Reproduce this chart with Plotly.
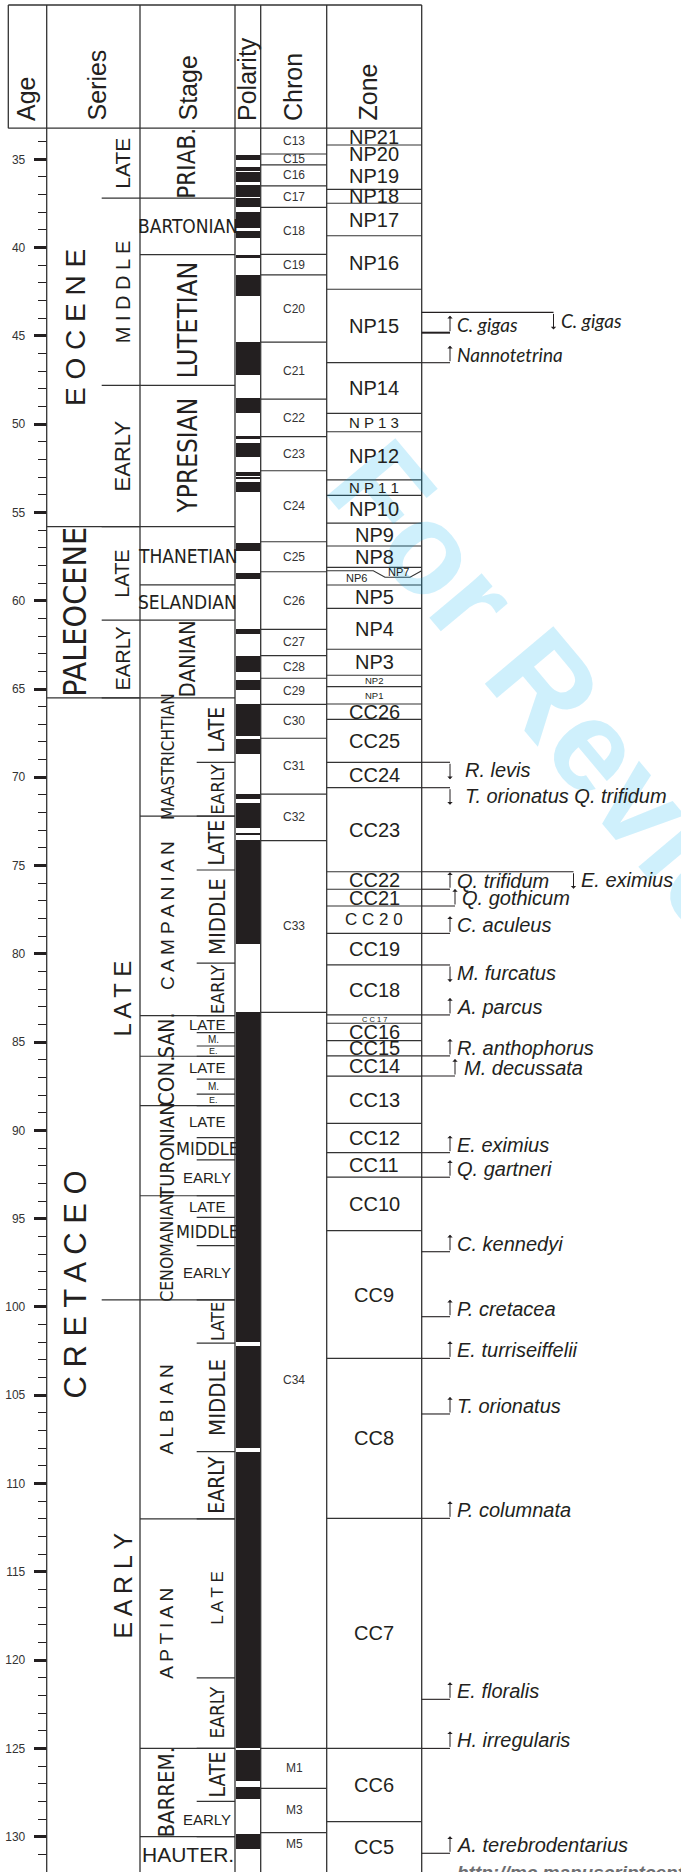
import plotly.graph_objects as go

# ---------------------------------------------------------------- data (ages in Ma)
series_names = ["E O C E N E", "PALEOCENE", "C R E T A C E O"]
series_base = [55.8, 65.5, 132.0]

subseries_names = ["LATE", "M I D D L E", "EARLY", "LATE", "EARLY", "L A T E", "E A R L Y"]
subseries_base = [37.2, 47.8, 55.8, 61.1, 65.5, 99.6, 132.0]

stage_names = ["PRIAB.", "BARTONIAN", "LUTETIAN", "YPRESIAN", "THANETIAN", "SELANDIAN", "DANIAN",
               "MAASTRICHTIAN", "C A M P A N I A N", "SAN.", "CON.", "TURONIAN", "CENOMANIAN",
               "A L B I A N", "A P T I A N", "BARREM.", "HAUTER."]
stage_base = [37.2, 40.4, 47.8, 55.8, 59.1, 61.1, 65.5, 72.2, 83.5, 85.8, 88.6, 93.7, 99.6,
              112.0, 125.0, 130.0, 132.0]

substage_names = ["LATE", "EARLY",                 # Maastrichtian
                  "LATE", "MIDDLE", "EARLY",       # Campanian
                  "LATE", "M.", "E.",              # Santonian
                  "LATE", "M.", "E.",              # Coniacian
                  "LATE", "MIDDLE", "EARLY",       # Turonian
                  "LATE", "MIDDLE", "EARLY",       # Cenomanian
                  "LATE", "MIDDLE", "EARLY",       # Albian
                  "L A T E", "EARLY",              # Aptian
                  "LATE", "EARLY"]                 # Barremian
substage_first_top = 65.5
substage_base = [69.15, 72.2, 75.25, 80.53, 83.5, 84.46, 85.22, 85.8, 87.09, 87.94, 88.6,
                 90.41, 91.67, 93.7, 94.92, 96.53, 99.6, 102.05, 108.19, 112.0, 121.0, 125.0,
                 128.0, 130.0]

# normal-polarity intervals (black)
pol_top = [34.76, 35.46, 35.72, 36.46, 37.21, 37.97, 39.04, 40.42, 41.55, 45.36, 48.54, 50.67,
           51.08, 52.69, 53.04, 53.28, 56.71, 58.41, 61.62, 63.13, 64.49, 65.85, 67.85, 70.96,
           71.47, 73.17, 73.55, 83.31, 102.19, 108.19, 125.07, 127.20, 129.85]
pol_base = [35.04, 35.66, 36.27, 37.12, 37.68, 38.91, 39.47, 40.61, 42.72, 47.22, 49.39, 50.86,
            51.88, 52.94, 53.10, 53.83, 57.17, 58.75, 61.90, 64.02, 65.06, 67.64, 68.70, 71.23,
            72.89, 73.29, 79.46, 101.97, 108.00, 124.95, 126.83, 127.88, 130.71]

chron_names = ["C13", "C15", "C16", "C17", "C18", "C19", "C20", "C21", "C22", "C23", "C24", "C25",
               "C26", "C27", "C28", "C29", "C30", "C31", "C32", "C33", "C34", "M1", "M3", "M5"]
chron_base = [34.70, 35.32, 36.51, 37.72, 40.38, 41.55, 45.36, 48.58, 50.71, 52.64, 56.66, 58.36,
              61.62, 63.11, 64.39, 65.87, 67.79, 70.95, 73.59, 83.31, 125.0, 127.26, 129.77, 131.1]

zone_names = ["NP21", "NP20", "NP19", "NP18", "NP17", "NP16", "NP15", "NP14", "N P 1 3", "NP12",
              "N P 1 1", "NP10", "NP9", "NP8", "NP7", "NP6", "NP5", "NP4", "NP3", "NP2", "NP1",
              "CC26", "CC25", "CC24", "CC23", "CC22", "CC21", "C C 2 0", "CC19", "CC18", "C C 1 7",
              "CC16", "CC15", "CC14", "CC13", "CC12", "CC11", "CC10", "CC9", "CC8", "CC7", "CC6", "CC5"]
zone_base = [34.19, 35.20, 36.70, 37.49, 39.33, 42.36, 46.52, 49.39, 50.43, 53.16, 54.03, 55.61,
             56.90, 58.11, 58.67, 59.11, 60.43, 62.75, 64.22, 64.87, 65.85, 66.72, 69.15, 70.59,
             75.35, 76.34, 77.29, 78.84, 80.63, 83.46, 83.93, 84.92, 85.78, 86.92, 89.60, 91.26,
             92.65, 95.68, 102.91, 111.97, 125.00, 129.15, 132.0]
np6_top_left = 58.30   # NP7/NP6 boundary where NP7 pinches out
undrawn_zone_bases = {"NP20"}   # NP20/NP19 shown without a dividing rule

# nannofossil datums: FO = first occurrence (arrow up), LO = last occurrence (arrow down)
event_names = ["C. gigas", "C. gigas", "Nannotetrina", "R. levis", "T. orionatus Q. trifidum",
               "E. eximius", "Q. trifidum", "Q. gothicum", "C. aculeus", "M. furcatus", "A. parcus",
               "R. anthophorus", "M. decussata", "E. eximius", "Q. gartneri", "C. kennedyi",
               "P. cretacea", "E. turriseiffelii", "T. orionatus", "P. columnata", "E. floralis",
               "H. irregularis", "A. terebrodentarius"]
event_ages = [44.82, 43.67, 46.52, 69.15, 70.59, 75.35, 76.34, 77.29, 78.84, 80.63, 83.46, 85.78,
              86.92, 91.26, 92.65, 96.87, 100.55, 102.91, 106.06, 111.97, 122.22, 125.0, 130.94]
event_kind = ["FO", "LO", "FO", "LO", "LO", "LO", "FO", "FO", "FO", "LO", "FO", "FO", "FO", "FO",
              "FO", "FO", "FO", "FO", "FO", "FO", "FO", "FO", "FO"]

# ---------------------------------------------------------------- page geometry (px)
W, H = 681, 1872
AGE_AT_TOP, AGE_AT_BOTTOM = 25.978, 132.0
HEAD_BOTTOM = 33.24

X_FRAME, X_AGE, X_SERSUB, X_SERIES = 8.3, 46.7, 101.7, 140.0
X_STGSUB, X_STAGE, X_POL, X_CHRON, X_ZONE = 196.7, 235.0, 260.7, 326.7, 421.7

SANS = "Liberation Sans, Arial, sans-serif"
NARROW = "Liberation Sans Narrow, Arial Narrow, DejaVu Sans Condensed, Liberation Sans, sans-serif"
HUMANIST = "Lato, Open Sans, sans-serif"
INK = "#231f20"
RULE = "#333333"


def px2paper(p):
    return 1 - p / H


shapes, annotations = [], []


def hline(x0, x1, age, color=RULE, width=1.2):
    shapes.append(dict(type="line", xref="x", yref="y", x0=x0, x1=x1, y0=age, y1=age,
                       line=dict(color=color, width=width)))


def label(x, y, s, size, angle=0, family=SANS, yref="y", style="normal", weight="normal",
          color=INK, xanchor="center", yanchor="middle", yshift=0):
    annotations.append(dict(x=x, y=y, xref="x", yref=yref, text=s, showarrow=False,
                            textangle=angle, xanchor=xanchor, yanchor=yanchor, yshift=yshift,
                            font=dict(family=family, size=size, color=color, style=style,
                                      weight=weight)))


# watermark (kept first so every other label sits on top of it); paper-referenced so its
# centre may lie near or beyond the right edge of the page
annotations.append(dict(x=683 / W, y=px2paper(850), xref="paper", yref="paper",
                        xanchor="center", yanchor="middle",
                        text="For Review Only", showarrow=False, textangle=50,
                        font=dict(family="Liberation Sans, Arial", size=130, weight="bold",
                                  color="rgba(0,174,239,0.19)")))

# ---------------------------------------------------------------- frame and header
top_p = px2paper(5)
shapes.append(dict(type="line", xref="x", yref="paper", x0=X_FRAME, x1=X_ZONE, y0=top_p, y1=top_p,
                   line=dict(color=RULE, width=1.3)))
hline(X_FRAME, X_ZONE, HEAD_BOTTOM, width=1.3)
shapes.append(dict(type="line", xref="x", yref="paper", x0=X_FRAME, x1=X_FRAME,
                   y0=px2paper(128.3), y1=top_p, line=dict(color=RULE, width=1.3)))
for xc in (X_AGE, X_SERIES, X_STAGE, X_POL, X_CHRON, X_ZONE):
    shapes.append(dict(type="line", xref="x", yref="paper", x0=xc, x1=xc, y0=0, y1=top_p,
                       line=dict(color=RULE, width=1.3)))

for name, xc in (("Age", 26), ("Series", 97), ("Stage", 188), ("Polarity", 247),
                 ("Chron", 293), ("Zone", 368)):
    label(xc, px2paper(123), name, 25, angle=-90, yref="paper", yanchor="bottom")

# ---------------------------------------------------------------- series
SERIES_STYLE = {"E O C E N E": (28, SANS), "PALEOCENE": (32, NARROW), "C R E T A C E O": (31, SANS)}
top = HEAD_BOTTOM
for name, base in zip(series_names, series_base):
    if base < AGE_AT_BOTTOM - 0.01:
        hline(X_AGE, X_SERIES, base)
    size, fam = SERIES_STYLE[name]
    label(75.5, (top + base) / 2, name, size, angle=-90, family=fam)
    top = base

SUBSERIES_SIZE = [21, 20, 22, 20, 20, 24, 25]
top = HEAD_BOTTOM
for name, base, size in zip(subseries_names, subseries_base, SUBSERIES_SIZE):
    if base < AGE_AT_BOTTOM - 0.01:
        hline(X_SERSUB, X_SERIES, base)
    label(122.5, (top + base) / 2, name, size, angle=-90)
    top = base

# ---------------------------------------------------------------- stages
STAGE_STYLE = {  # angle, size, family, x centre
    "PRIAB.": (-90, 24, NARROW, 187.5), "BARTONIAN": (0, 19, NARROW, 187.5),
    "LUTETIAN": (-90, 27, NARROW, 187.5), "YPRESIAN": (-90, 26, NARROW, 187.5),
    "THANETIAN": (0, 19, NARROW, 187.5), "SELANDIAN": (0, 19, NARROW, 187.5),
    "DANIAN": (-90, 22, NARROW, 187.5), "MAASTRICHTIAN": (-90, 17, NARROW, 168),
    "C A M P A N I A N": (-90, 19, SANS, 168), "SAN.": (-90, 21, NARROW, 167),
    "CON.": (-90, 22, NARROW, 167), "TURONIAN": (-90, 20, NARROW, 167),
    "CENOMANIAN": (-90, 17.5, NARROW, 167), "A L B I A N": (-90, 19, SANS, 166),
    "A P T I A N": (-90, 19, SANS, 167), "BARREM.": (-90, 22, NARROW, 167),
    "HAUTER.": (0, 21, SANS, 187.5)}
top = HEAD_BOTTOM
for name, base in zip(stage_names, stage_base):
    if base < AGE_AT_BOTTOM - 0.01:
        hline(X_SERIES, X_STAGE, base)
    ang, size, fam, xc = STAGE_STYLE[name]
    label(xc, (top + base) / 2, name, size, angle=ang, family=fam)
    top = base

# substages: (rotated?, size, family)
SUBSTAGE_STYLE = [
    (True, 21, NARROW), (True, 18.5, NARROW),
    (True, 21, NARROW), (True, 22, NARROW), (True, 18, NARROW),
    (False, 15, SANS), (False, 10, SANS), (False, 9, SANS),
    (False, 15, SANS), (False, 10, SANS), (False, 9, SANS),
    (False, 15, SANS), (False, 18, NARROW), (False, 15, SANS),
    (False, 15, SANS), (False, 18, NARROW), (False, 15, SANS),
    (True, 18, NARROW), (True, 22, NARROW), (True, 21, NARROW),
    (True, 17, SANS), (True, 19, NARROW),
    (True, 21, NARROW), (False, 15, SANS)]
top = substage_first_top
for name, base, (rot, size, fam) in zip(substage_names, substage_base, SUBSTAGE_STYLE):
    hline(X_STGSUB, X_STAGE, base)
    mid = (top + base) / 2
    if rot:
        label(217.5, mid, name, size, angle=-90, family=fam)
    else:
        label(213 if name in ("M.", "E.") else 207, mid, name, size, family=fam)
    top = base

# ---------------------------------------------------------------- polarity
polarity = go.Bar(x=[248.0] * len(pol_top), base=pol_top,
                  y=[b - t for t, b in zip(pol_top, pol_base)], width=24.0,
                  marker=dict(color=INK, line=dict(width=0)), hoverinfo="skip", showlegend=False)

# ---------------------------------------------------------------- chrons
top = HEAD_BOTTOM
for i, (name, base) in enumerate(zip(chron_names, chron_base)):
    if i < len(chron_base) - 1:
        hline(X_POL, X_CHRON, base)
    label(294, (top + base) / 2, name, 12, color="#333333")
    top = base

# ---------------------------------------------------------------- nannofossil zones
ZONE_SIZE = {"N P 1 3": 15, "N P 1 1": 15, "NP2": 9.5, "NP1": 9.5, "C C 1 7": 7.5,
             "C C 2 0": 17, "NP7": 11, "NP6": 11}
top = HEAD_BOTTOM
for i, (name, base) in enumerate(zip(zone_names, zone_base)):
    if name == "NP7":
        # NP7 pinches out towards the left edge of the column
        yl = np6_top_left
        shapes.append(dict(type="path", xref="x", yref="y",
                           path=f"M {X_CHRON},{yl} L 373.3,{yl} L 385,{base} L 410,{base} L {X_ZONE},{yl}",
                           line=dict(color=RULE, width=1.1)))
        label(398, top + (base - top) * 0.5, name, ZONE_SIZE[name])
    elif name == "NP6":
        hline(X_CHRON, X_ZONE, base)
        label(356, (np6_top_left + base) / 2, name, ZONE_SIZE[name])
    else:
        if i < len(zone_base) - 1 and name not in undrawn_zone_bases:
            hline(X_CHRON, X_ZONE, base)
        label(374, (top + base) / 2, name, ZONE_SIZE.get(name, 20))
    top = base

# ---------------------------------------------------------------- datums
ARROW_X = {1: 553.5, 5: 573.5, 7: 455, 12: 455}
TEXT_GAP = {3: 13, 4: 13, 12: 7}
ARROW_LEN = 17
for i, (name, age, kind) in enumerate(zip(event_names, event_ages, event_kind)):
    xa = ARROW_X.get(i, 450)
    hline(X_ZONE, xa, age, color=INK, width=2.0 if i == 0 else 1.1)
    up = kind == "FO"
    annotations.append(dict(x=xa, y=age, xref="x", yref="y", text="", showarrow=True,
                            ax=0, ay=ARROW_LEN if up else -ARROW_LEN,
                            yshift=ARROW_LEN if up else -ARROW_LEN,
                            arrowhead=1, arrowsize=0.9, arrowwidth=1, arrowcolor=INK))
    fam, size = (HUMANIST, 19) if i < 3 else (SANS, 20)
    label(xa + TEXT_GAP.get(i, 5), age, name, size, family=fam, style="italic",
          xanchor="left", yshift=8 if up else -8)

# running footer of the manuscript page
label(455, px2paper(1860), "http://mc.manuscriptcentral.com/", 19, yref="paper",
      style="italic", weight="bold", color="#6d6e71", xanchor="left", yanchor="top")

# ---------------------------------------------------------------- figure
fig = go.Figure(polarity)
fig.update_layout(
    width=W, height=H, margin=dict(l=0, r=0, t=0, b=0),
    paper_bgcolor="white", plot_bgcolor="white", showlegend=False, bargap=0,
    font=dict(family=SANS, color=INK),
    xaxis=dict(range=[0, W], domain=[0, 1], visible=False, fixedrange=True),
    yaxis=dict(range=[AGE_AT_BOTTOM, AGE_AT_TOP], anchor="free", position=X_AGE / W, side="left",
               showgrid=False, zeroline=False, showline=False, fixedrange=True,
               tickmode="array", tickvals=list(range(35, 131, 5)),
               ticks="outside", ticklen=13, tickwidth=2.5, tickcolor=INK,
               tickfont=dict(family=SANS, size=12, color="#333333"), ticklabelstandoff=6,
               minor=dict(tickmode="array", tickvals=[a for a in range(34, 132) if a % 5],
                          ticks="outside", ticklen=9, tickwidth=1, tickcolor=INK,
                          showgrid=False)),
    shapes=shapes, annotations=annotations,
)
fig.write_html("out.html", include_plotlyjs=True, config={"displayModeBar": False})
